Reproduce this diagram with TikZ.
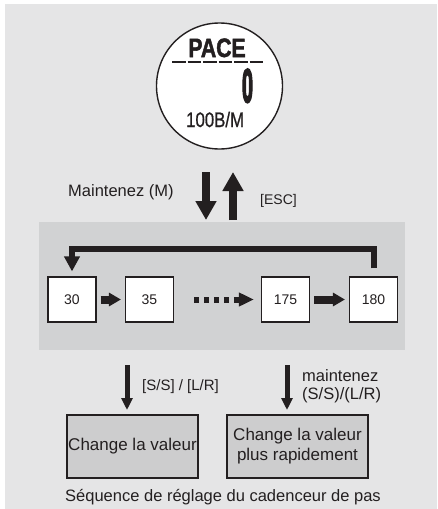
\documentclass[tikz,border=0pt]{standalone}
\usepackage{fontspec}
\setmainfont{Liberation Sans}
\newfontfamily\lcdbold[FakeBold=2]{Liberation Sans Bold}
\newfontfamily\lcdheavy[FakeBold=5]{Liberation Sans Bold}
\newfontfamily\lcdreg[FakeBold=1]{Liberation Sans}
\usetikzlibrary{arrows.meta,calc}
\definecolor{bg}{RGB}{229,229,230}
\definecolor{bandc}{RGB}{209,210,211}
\definecolor{lbox}{RGB}{205,205,206}
\definecolor{ink}{RGB}{35,31,32}
\begin{document}
\begin{tikzpicture}[x=1pt,y=-1pt,
  txt/.style={text=ink,inner sep=0pt,font=\fontsize{16.5}{18}\selectfont},
  numbox/.style={draw=ink,fill=white,line width=1.1pt,minimum width=48pt,minimum height=45pt,inner sep=0pt,font=\fontsize{14}{16}\selectfont,text=ink},
  lowbox/.style={draw=ink,fill=lbox,line width=1.3pt,minimum height=63pt,inner sep=0pt,align=center,text=ink,font=\fontsize{17}{20}\selectfont},
  fatar/.style={draw=ink,line width=8pt,shorten <=4pt,shorten >=4pt,-{Triangle[width=13pt,length=12pt]}},
  dotar/.style={draw=ink,line width=6pt,dash pattern=on 5pt off 5pt,shorten <=20pt,shorten >=7pt,-{Triangle[width=13pt,length=15pt]}},
  loopar/.style={draw=ink,line width=6pt,-{Triangle[width=15pt,length=15pt]}},
  bigar/.style={draw=ink,line width=8pt,-{Triangle[width=20pt,length=19pt]}},
  smallar/.style={draw=ink,line width=5pt,-{Triangle[width=11pt,length=12pt]}}
]
\useasboundingbox (0,0) rectangle (437,509);
\fill[white] (0,0) rectangle (437,509);
\fill[bg] (5,4) rectangle (437,509);

% display
\node[circle,draw=ink,fill=white,line width=1.4pt,minimum size=126pt,inner sep=0pt] (disp) at (219.5,86) {};
\node[anchor=base,inner sep=0pt,text=ink,font=\lcdbold\fontsize{26.5}{28}\selectfont,xscale=0.8] (pace) at (217,57) {PACE};
\draw[ink,line width=2pt,dash pattern=on 13.5pt off 2pt] (172,62) -- (263,62);
\node[anchor=base,inner sep=0pt,text=ink,font=\lcdheavy\fontsize{47}{50}\selectfont,xscale=0.42] (digit) at (247.5,102) {0};
\node[anchor=base west,inner sep=0pt,text=ink,font=\lcdreg\fontsize{21}{23}\selectfont,xscale=0.8] (unit) at (186,127) {100B/M};

% band
\node[fill=bandc,minimum width=366pt,minimum height=128pt,inner sep=0pt] (band) at (222,286) {};

% M / ESC arrows
\coordinate (mtop) at (206,172);
\coordinate (mbot) at (206,220);
\coordinate (etop) at (233,172);
\coordinate (ebot) at (233,220);
\draw[bigar] (mtop) -- (mbot);
\draw[bigar] (ebot) -- (etop);
\node[txt,anchor=west] (lm) at (68,192) {Maintenez (M)};
\node[txt,anchor=west,font=\fontsize{14}{16}\selectfont] (lesc) at (260,201) {[ESC]};

% value boxes
\node[numbox] (b30) at (72,299.5) {30};
\node[numbox] (b35) at (149.5,299.5) {35};
\node[numbox] (b175) at (285.5,299.5) {175};
\node[numbox] (b180) at (373.5,299.5) {180};
\draw[fatar] (b30) -- (b35);
\draw[fatar] (b175) -- (b180);
\draw[dotar] (b35) -- (b175);
\draw[loopar] ($(b180.north)+(0,-8)$) -- ($(b180.north)+(0,-27)$) -| ($(b30.north)+(0,-5)$);

% lower part
\node[lowbox,minimum width=131pt] (lb1) at (132.5,446.5) {Change la valeur};
\node[lowbox,minimum width=141pt] (lb2) at (297.5,446.5) {Change la valeur\\plus rapidement};
\coordinate (s1) at (127,365);
\coordinate (t1) at (127,410);
\coordinate (s2) at (287,365);
\coordinate (t2) at (287,410);
\draw[smallar] (s1) -- (t1);
\draw[smallar] (s2) -- (t2);
\node[txt,anchor=west,font=\fontsize{15}{17}\selectfont] (lss) at (142,387) {[S/S] / [L/R]};
\node[txt,anchor=west,align=left] (lmr) at (302,386) {maintenez\\(S/S)/(L/R)};
\node[txt] (cap) at (223,497) {Séquence de réglage du cadenceur de pas};
\end{tikzpicture}
\end{document}
